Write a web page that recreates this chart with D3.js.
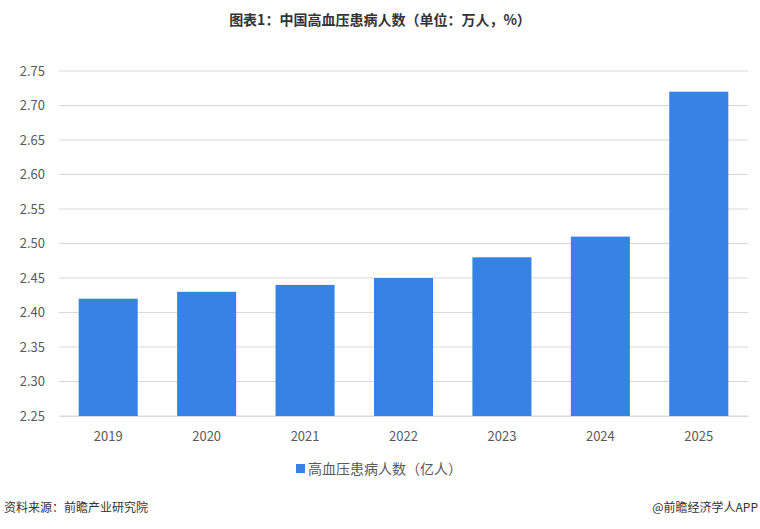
<!DOCTYPE html>
<html>
<head>
<meta charset="utf-8">
<script src="https://cdn.jsdelivr.net/npm/d3@7"></script>
<style>
	body{ margin:0; background:#fff; }
	svg text{ font-family:"Noto Sans CJK SC","Noto Sans",sans-serif; }
</style>
</head>
<body>
<svg id="chart" width="760" height="529"></svg>
<script>
var years = ["2019", "2020", "2021", "2022", "2023", "2024", "2025"];
var patients = [2.42, 2.43, 2.44, 2.45, 2.48, 2.51, 2.72];
var yTicks = [2.25, 2.30, 2.35, 2.40, 2.45, 2.50, 2.55, 2.60, 2.65, 2.70, 2.75];
var seriesName = "高血压患病人数（亿人）";
var titleText = "图表1：中国高血压患病人数（单位：万人，%）";
var sourceText = "资料来源：前瞻产业研究院";
var brandText = "@前瞻经济学人APP";

var barColor = "#3683e5";
var gridColor = "#d9d9d9";
var labelColor = "#595959";

var svg = d3.select("#chart");
var plotLeft = 59, plotRight = 748, plotTop = 71, plotBottom = 416;

var x = d3.scaleBand()
	.domain(years)
	.range([plotLeft, plotRight])
	.paddingInner(0.4)
	.paddingOuter(0.2);
var y = d3.scaleLinear()
	.domain([2.25, 2.75])
	.range([plotBottom, plotTop]);

// title
svg.append("text")
	.attr("x", 380).attr("y", 25)
	.attr("text-anchor", "middle")
	.attr("font-size", 14).attr("font-weight", "bold")
	.attr("fill", "#333")
	.text(titleText);

// grid lines
svg.append("g").selectAll("line").data(yTicks).enter()
	.append("line")
	.attr("x1", plotLeft).attr("x2", plotRight)
	.attr("y1", function(d){ return y(d); })
	.attr("y2", function(d){ return y(d); })
	.attr("stroke", gridColor)
	.attr("stroke-width", 1);

// y axis labels
var yAxis = d3.axisLeft(y).tickValues(yTicks).tickFormat(d3.format(".2f")).tickSize(0).tickPadding(14);
var gy = svg.append("g").attr("transform", "translate(" + plotLeft + ",0)").call(yAxis);
gy.select(".domain").remove();
gy.selectAll("text").attr("fill", labelColor).attr("font-size", 13).attr("font-family", "'Noto Sans',sans-serif");

// bars
svg.append("g").selectAll("rect").data(patients).enter()
	.append("rect")
	.attr("x", function(d, i){ return x(years[i]); })
	.attr("y", function(d){ return y(d); })
	.attr("width", x.bandwidth())
	.attr("height", function(d){ return y(2.25) - y(d); })
	.attr("fill", barColor);

// x axis labels
var xAxis = d3.axisBottom(x).tickSize(0).tickPadding(16);
var gx = svg.append("g").attr("transform", "translate(0," + plotBottom + ")").call(xAxis);
gx.select(".domain").attr("stroke", gridColor);
gx.selectAll("text").attr("fill", labelColor).attr("font-size", 13).attr("font-family", "'Noto Sans',sans-serif");

// legend
var legend = svg.append("g").attr("transform", "translate(296,469)");
legend.append("rect")
	.attr("x", 0).attr("y", -5).attr("width", 9).attr("height", 9)
	.attr("fill", barColor);
legend.append("text")
	.attr("x", 12).attr("y", 5)
	.attr("font-size", 14).attr("fill", labelColor)
	.text(seriesName);

// footer
svg.append("text")
	.attr("x", 4).attr("y", 512)
	.attr("font-size", 12).attr("fill", "#333")
	.text(sourceText);
svg.append("text")
	.attr("x", 758).attr("y", 512)
	.attr("text-anchor", "end")
	.attr("font-size", 12).attr("fill", "#333")
	.text(brandText);
</script>
</body>
</html>
